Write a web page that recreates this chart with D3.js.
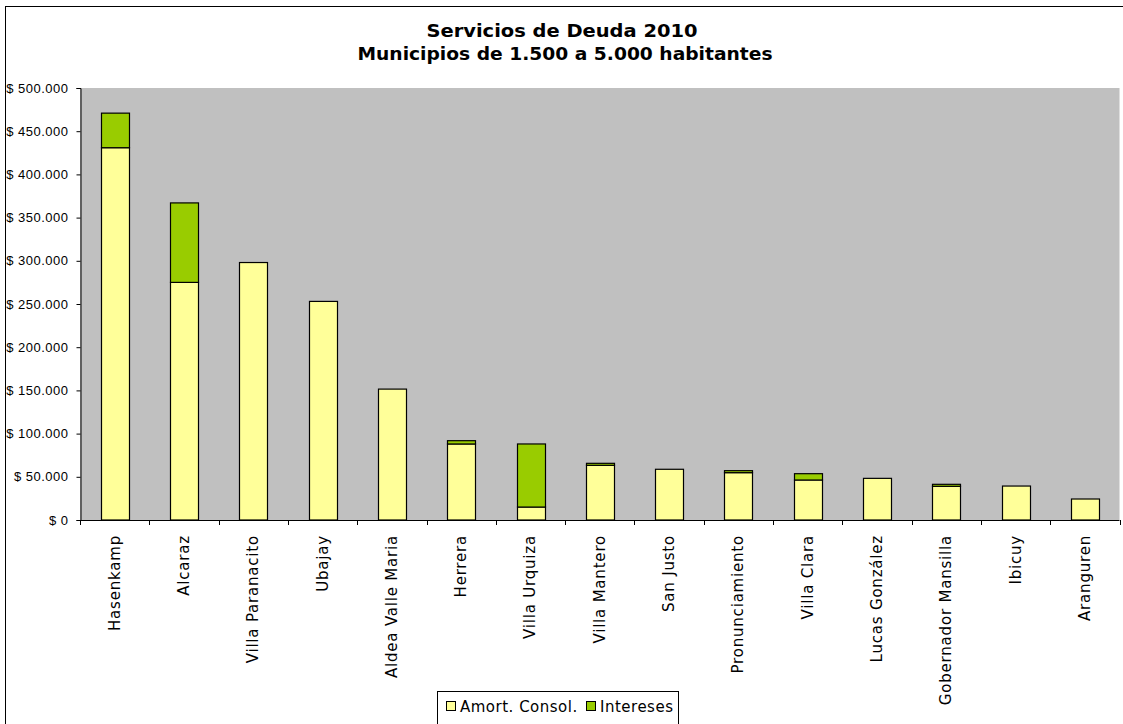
<!DOCTYPE html>
<html>
<head>
<meta charset="UTF-8" />
<title>Servicios de Deuda 2010</title>
<script src="https://d3js.org/d3.v7.min.js"></script>
<style>
body { margin: 0; background: #fff; }
svg { display: block; }
.ylab { font-family: "Liberation Sans", Arial, sans-serif; font-size: 13px; letter-spacing: 0.5px; fill: #000; }
.xlab { font-family: "DejaVu Sans", sans-serif; font-size: 15px; letter-spacing: 0.8px; fill: #000; }
.title { font-family: "DejaVu Sans", sans-serif; font-size: 17px; font-weight: bold; }
.legend text { font-family: "DejaVu Sans", sans-serif; font-size: 15px; letter-spacing: 0.5px; }
</style>
</head>
<body>
<div id="chart"></div>
<script>
// datos
var municipios = ['Hasenkamp', 'Alcaraz', 'Villa Paranacito', 'Ubajay', 'Aldea Valle Maria',
    'Herrera', 'Villa Urquiza', 'Villa Mantero', 'San Justo', 'Pronunciamiento',
    'Villa Clara', 'Lucas González', 'Gobernador Mansilla', 'Ibicuy', 'Aranguren'];
var amortConsol = [430900, 275000, 298000, 253000, 151500, 88000, 15000, 63300, 58700, 54800,
    46300, 48200, 39000, 39300, 24300];
var intereses = [40000, 92000, 0, 0, 0, 3800, 73000, 2300, 0, 2300, 7300, 0, 2300, 0, 0];
var yTicks = [0, 50000, 100000, 150000, 200000, 250000, 300000, 350000, 400000, 450000, 500000];
var seriesNames = ['Amort. Consol.', 'Intereses'];
var seriesColors = ['#FFFF99', '#99CC00'];

var width = 1123, height = 724;
var plot = {left: 80, top: 88, right: 1119.5, bottom: 520};

var svg = d3.select('#chart').append('svg')
    .attr('width', width)
    .attr('height', height);

// marco exterior
svg.append('rect')
    .attr('x', 5.5).attr('y', 6.5)
    .attr('width', width + 10).attr('height', height + 10)
    .attr('fill', '#fff').attr('stroke', '#000');

// titulo
svg.append('text').attr('class', 'title')
    .attr('x', 562).attr('y', 37).attr('text-anchor', 'middle')
    .attr('textLength', 271).attr('lengthAdjust', 'spacingAndGlyphs')
    .text('Servicios de Deuda 2010');
svg.append('text').attr('class', 'title')
    .attr('x', 565).attr('y', 60).attr('text-anchor', 'middle')
    .attr('textLength', 415).attr('lengthAdjust', 'spacingAndGlyphs')
    .text('Municipios de 1.500 a 5.000 habitantes');

var x = d3.scaleBand()
    .domain(municipios)
    .range([plot.left, plot.right])
    .paddingInner(0.6)
    .paddingOuter(0.3);

var y = d3.scaleLinear()
    .domain([0, 500000])
    .range([plot.bottom, plot.top]);

var loc = d3.formatLocale({decimal: ',', thousands: '.', grouping: [3], currency: ['$ ', '']});
var fmt = loc.format('$,.0f');

// area de trazado
svg.append('rect')
    .attr('x', plot.left).attr('y', plot.top)
    .attr('width', plot.right - plot.left).attr('height', plot.bottom - plot.top)
    .attr('fill', '#C0C0C0');

var data = municipios.map(function(m, i) {
    return {name: m, amort: amortConsol[i], inter: intereses[i]};
});
var stack = d3.stack().keys(['amort', 'inter'])(data);

var layers = svg.selectAll('g.layer')
    .data(stack)
    .enter().append('g')
    .attr('class', 'layer')
    .attr('fill', function(d, i) { return seriesColors[i]; });

layers.selectAll('rect')
    .data(function(d) { return d.filter(function(p) { return p[1] > p[0]; }); })
    .enter().append('rect')
    .attr('x', function(d) { return Math.round(x(d.data.name)) + 0.5; })
    .attr('y', function(d) { return y(d[1]); })
    .attr('width', Math.round(x.bandwidth()))
    .attr('height', function(d) { return y(d[0]) - y(d[1]); })
    .attr('stroke', '#000')
    .attr('stroke-width', 1.2);

// eje y
var yAxis = svg.append('g')
    .attr('transform', 'translate(' + (plot.left + 0.5) + ',0)')
    .call(d3.axisLeft(y).tickValues(yTicks).tickFormat(fmt).tickSizeOuter(0).tickSize(4).tickPadding(8));
yAxis.select('.domain').attr('stroke', '#000');
yAxis.selectAll('text').attr('class', 'ylab').attr('font-family', null).attr('font-size', null);

// eje x: marcas en los limites de categoria
var step = x.step();
var bounds = d3.range(municipios.length + 1).map(function(i) { return plot.left + i * step; });
svg.append('line')
    .attr('x1', plot.left).attr('x2', plot.right)
    .attr('y1', plot.bottom + 0.5).attr('y2', plot.bottom + 0.5)
    .attr('stroke', '#000');
svg.selectAll('line.xtick')
    .data(bounds)
    .enter().append('line')
    .attr('class', 'xtick')
    .attr('x1', function(d) { return Math.round(d) + 0.5; })
    .attr('x2', function(d) { return Math.round(d) + 0.5; })
    .attr('y1', plot.bottom).attr('y2', plot.bottom + 5)
    .attr('stroke', '#000');

svg.selectAll('text.xlab')
    .data(municipios)
    .enter().append('text')
    .attr('class', 'xlab')
    .attr('text-anchor', 'end')
    .attr('transform', function(d) {
        return 'translate(' + (x(d) + x.bandwidth() / 2 + 5) + ',' + (plot.bottom + 15) + ') rotate(-90)';
    })
    .text(function(d) { return d; });

// leyenda
var legend = svg.append('g').attr('class', 'legend');
legend.append('rect')
    .attr('x', 437.5).attr('y', 691.5)
    .attr('width', 241).attr('height', 50)
    .attr('fill', '#fff').attr('stroke', '#000');
var legX = [446, 586];
seriesNames.forEach(function(s, i) {
    legend.append('rect')
        .attr('x', legX[i] + 0.5).attr('y', 701.5)
        .attr('width', 9).attr('height', 9)
        .attr('fill', seriesColors[i]).attr('stroke', '#000');
    legend.append('text')
        .attr('x', legX[i] + 14).attr('y', 712)
        .text(s);
});
</script>
</body>
</html>
